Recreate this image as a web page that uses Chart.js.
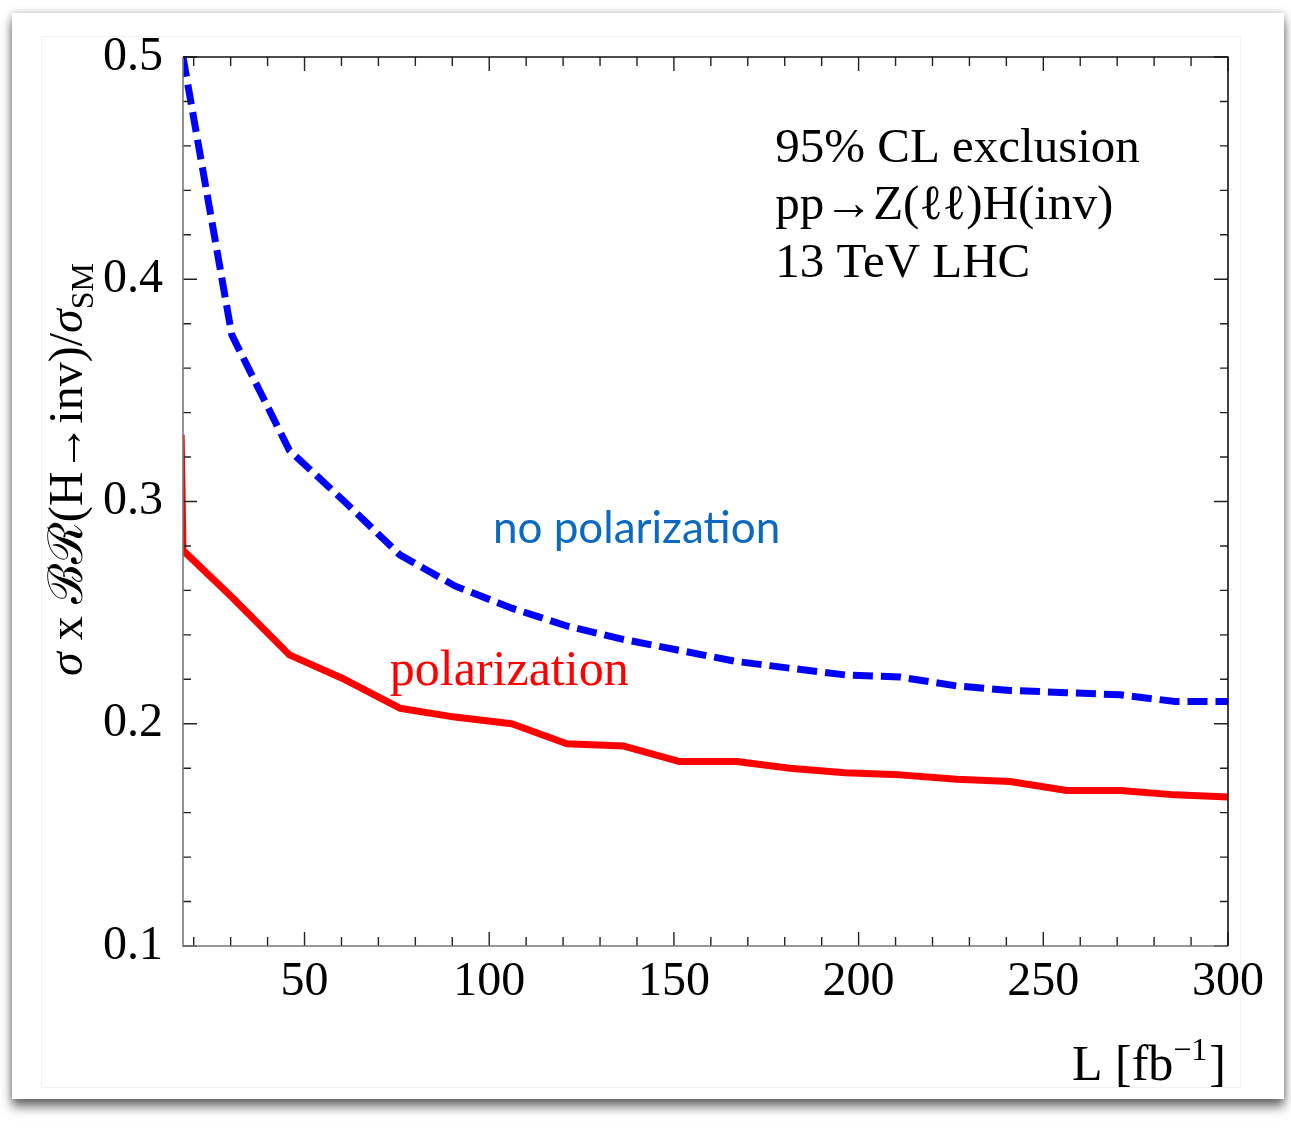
<!DOCTYPE html>
<html>
<head>
<meta charset="utf-8">
<script src="https://cdn.jsdelivr.net/npm/chart.js@4.4.0/dist/chart.umd.min.js"></script>
<style>
    html, body { margin: 0; padding: 0; background: #fff; }
    body { width: 1291px; height: 1130px; position: relative; overflow: hidden; }
    #card {
        position: absolute; left: 12px; top: 13px; width: 1272px; height: 1086px;
        background: #fff;
        box-shadow: 0 8px 10px rgba(0, 0, 0, 0.55), 0 0 7px rgba(0, 0, 0, 0.25);
    }
    #inner { position: absolute; left: 41px; top: 36px; width: 1198px; height: 1050px; border: 1px solid #f2f2f2; }
    canvas { position: absolute; left: 0; top: 0; }
</style>
</head>
<body>
<div id="card"></div>
<div id="inner"></div>
<canvas id="limitChart" width="1291" height="1130"></canvas>
<script>
// luminosity in fb^-1 (first point sits just left of the frame and gets clipped)
const luminosity = [16.6, 17.1, 30.3, 45.9, 60.8, 75.8, 90.7, 106.1, 121.0, 136.2, 151.6,
    167.0, 181.4, 196.3, 211.2, 226.6, 241.0, 256.4, 270.8, 285.7, 300.0];

// 95% CL upper limit on sigma x BR(H->inv) / sigma_SM
const noPolarization = [null, 0.500, 0.375, 0.323, 0.300, 0.276, 0.262, 0.252, 0.244, 0.238, 0.233,
    0.228, 0.225, 0.222, 0.221, 0.217, 0.215, 0.214, 0.213, 0.210, 0.210];
const withPolarization = [0.330, 0.278, 0.257, 0.231, 0.220, 0.207, 0.203, 0.200, 0.191, 0.190, 0.183,
    0.183, 0.180, 0.178, 0.177, 0.175, 0.174, 0.170, 0.170, 0.168, 0.167];

const xTickLabels = [50, 100, 150, 200, 250, 300];
const yTickLabels = [0.1, 0.2, 0.3, 0.4, 0.5];

const serif = "'Liberation Serif', 'DejaVu Serif', serif";

function toPoints(values) {
    return luminosity.map((l, i) => ({ x: l, y: values[i] }));
}

// Mathematica-style frame with ticks pointing inwards on all four sides
const frameTicks = {
    id: 'frameTicks',
    afterDraw(chart) {
        const { ctx, chartArea: a, scales: { x, y } } = chart;
        ctx.save();
        ctx.lineWidth = 1.4;
        ctx.strokeStyle = '#222';
        ctx.beginPath();
        for (let v = 20; v <= 300; v += 10) {
            const px = x.getPixelForValue(v);
            const len = v % 50 === 0 ? 14 : 9;
            ctx.moveTo(px, a.bottom); ctx.lineTo(px, a.bottom - len);
            ctx.moveTo(px, a.top); ctx.lineTo(px, a.top + len);
        }
        for (let k = 5; k <= 25; k++) {
            const py = y.getPixelForValue(k / 50);
            const len = k % 5 === 0 ? 14 : 8;
            ctx.moveTo(a.left, py); ctx.lineTo(a.left + len, py);
            ctx.moveTo(a.right, py); ctx.lineTo(a.right - len, py);
        }
        ctx.stroke();

        ctx.lineWidth = 1.6;
        ctx.strokeStyle = '#777';
        ctx.beginPath();
        ctx.moveTo(a.left, a.top); ctx.lineTo(a.left, a.bottom); ctx.lineTo(a.right, a.bottom);
        ctx.stroke();
        ctx.strokeStyle = '#111';
        ctx.beginPath();
        ctx.moveTo(a.left, a.top); ctx.lineTo(a.right, a.top); ctx.lineTo(a.right, a.bottom);
        ctx.stroke();
        ctx.restore();
    }
};

// texts: axis titles, curve labels and the info box
const labels = {
    id: 'labels',
    afterDraw(chart) {
        const { ctx, chartArea: a, scales: { x, y } } = chart;
        ctx.save();
        ctx.textBaseline = 'alphabetic';
        ctx.textAlign = 'left';
        ctx.fillStyle = '#000';

        // info box
        ctx.font = `49px ${serif}`;
        const bx = x.getPixelForValue(177.4);
        ctx.fillText('95% CL exclusion', bx, y.getPixelForValue(0.4527));
        ctx.fillText('pp\u2192Z(\u2113\u2113)H(inv)', bx, y.getPixelForValue(0.4271));
        ctx.fillText('13 TeV LHC', bx, y.getPixelForValue(0.4012));

        // curve labels
        ctx.fillStyle = '#0b69bf';
        ctx.font = `44px Lato, 'Open Sans', sans-serif`;
        ctx.fillText('no polarization', x.getPixelForValue(101), y.getPixelForValue(0.2813));
        ctx.fillStyle = '#ff0000';
        ctx.font = `50px ${serif}`;
        ctx.fillText('polarization', x.getPixelForValue(73.1), y.getPixelForValue(0.2174));

        // x title: L [fb^-1], right aligned to the frame
        ctx.fillStyle = '#000';
        const big = `50px ${serif}`, small = `32px ${serif}`;
        ctx.font = big;
        const w1 = ctx.measureText('L [fb').width;
        const w3 = ctx.measureText(']').width;
        ctx.font = small;
        const w2 = ctx.measureText('\u22121').width;
        const xb = a.bottom + 134;
        let xs = a.right - 2 - (w1 + w2 + w3 + 2);
        ctx.font = big; ctx.fillText('L [fb', xs, xb); xs += w1;
        ctx.font = small; ctx.fillText('\u22121', xs, xb - 20); xs += w2 + 2;
        ctx.font = big; ctx.fillText(']', xs, xb);

        // y title, rotated
        ctx.translate(a.left - 101, a.bottom - 270);
        ctx.rotate(-Math.PI / 2);
        const parts = [
            ['\u03c3', 'italic', 1, 0],
            [' x ', '', 1, 0],
            ['\u212c\u211b', '', 1, 0],
            ['(H\u2192inv)/', '', 1, 0],
            ['\u03c3', 'italic', 1, 0],
            ['SM', '', 0.66, 0.22]
        ];
        const size = 48;
        let pos = 0;
        for (const [txt, style, scale, drop] of parts) {
            ctx.font = `${style} ${Math.round(size * scale)}px ${serif}`;
            ctx.fillText(txt, pos, drop * size);
            pos += ctx.measureText(txt).width;
        }
        ctx.restore();
    }
};

new Chart(document.getElementById('limitChart').getContext('2d'), {
    type: 'line',
    data: {
        datasets: [
            {
                label: 'no polarization',
                data: toPoints(noPolarization),
                borderColor: '#0000ff',
                borderWidth: 7,
                borderDash: [20, 8],
                borderCapStyle: 'butt',
                borderJoinStyle: 'miter',
                pointRadius: 0,
                tension: 0,
                fill: false
            },
            {
                label: 'polarization',
                data: toPoints(withPolarization),
                borderColor: '#ff0000',
                borderWidth: 7,
                borderJoinStyle: 'round',
                pointRadius: 0,
                tension: 0,
                fill: false,
                clip: { left: 0, top: 4, right: 4, bottom: 4 }
            }
        ]
    },
    options: {
        responsive: false,
        animation: false,
        layout: { padding: { top: 57, right: 63, bottom: 124, left: 0 } },
        plugins: { legend: { display: false }, tooltip: { enabled: false } },
        scales: {
            x: {
                type: 'linear',
                min: 17.1,
                max: 300,
                grid: { display: false },
                border: { display: false },
                afterBuildTicks: s => { s.ticks = xTickLabels.map(v => ({ value: v })); },
                afterFit: s => { s.height = 60; },
                ticks: {
                    color: '#000',
                    padding: 0,
                    maxRotation: 0,
                    font: { family: serif, size: 48 }
                }
            },
            y: {
                type: 'linear',
                min: 0.1,
                max: 0.5,
                grid: { display: false },
                border: { display: false },
                afterBuildTicks: s => { s.ticks = yTickLabels.map(v => ({ value: v })); },
                afterFit: s => { s.width = 183; },
                ticks: {
                    color: '#000',
                    padding: 12,
                    font: { family: serif, size: 48 },
                    callback: v => v.toFixed(1)
                }
            }
        }
    },
    plugins: [frameTicks, labels]
});
</script>
</body>
</html>
